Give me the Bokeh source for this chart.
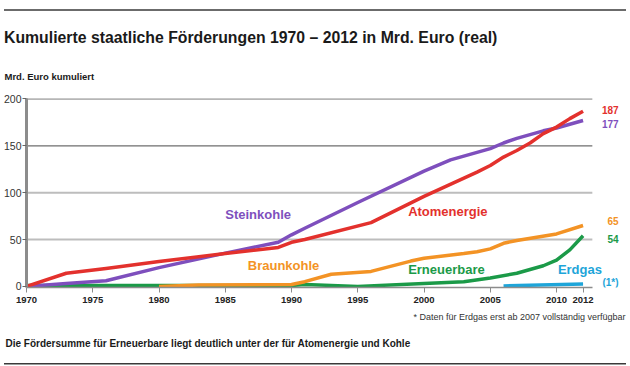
from bokeh.plotting import figure
from bokeh.models import FixedTicker, Label, Range1d
from bokeh.layouts import column
from bokeh.embed import file_html
from bokeh.resources import INLINE

# ---------------- data ----------------
years_atom = [1970, 1973, 1976, 1980, 1985, 1989, 1990, 1991, 1996, 2000, 2004,
              2005, 2006, 2007, 2008, 2009, 2010, 2011, 2012]
atom = [0, 14, 19, 26.5, 35, 41.5, 47, 50, 68, 96, 122,
        129, 138, 145, 153, 163, 170, 179, 187]

years_stein = [1970, 1973, 1976, 1980, 1985, 1989, 1990, 1991, 1995, 2000, 2002,
               2004, 2005, 2006, 2007, 2008, 2009, 2010, 2011, 2012]
stein = [0, 3, 6, 20, 35.5, 47, 55, 62, 89.5, 123, 135,
         143, 147, 153, 158, 162, 166, 169, 173, 177]

years_braun = [1980, 1983, 1990, 1991, 1993, 1996, 1999, 2000, 2003, 2004,
               2005, 2006, 2007, 2010, 2012]
braun = [0, 1.5, 2, 5, 13, 16, 27, 30, 35, 37, 40, 46, 49, 56, 65]

years_ern = [1970, 1990, 1991, 1995, 2000, 2003, 2005, 2007, 2009, 2010, 2011, 2012]
ern = [1, 1, 2, 0, 3, 5, 9, 14, 22, 28, 39, 54]

years_gas = [2006, 2012]
gas = [0.5, 2.5]

x_ticks = [1970, 1975, 1980, 1985, 1990, 1995, 2000, 2005, 2010, 2012]
y_ticks = [0, 50, 100, 150, 200]
dark_grid = [150, 200]
light_grid = [50, 100]

title_text = "Kumulierte staatliche Förderungen 1970 – 2012 in Mrd. Euro (real)"
unit_text = "Mrd. Euro kumuliert"
note_text = "* Daten für Erdgas erst ab 2007 vollständig verfügbar"
sub_text = "Die Fördersumme für Erneuerbare liegt deutlich unter der für Atomenergie und Kohle"

C_ATOM = "#e3312d"
C_STEIN = "#7e4fbd"
C_BRAUN = "#f39325"
C_ERN = "#1b9a48"
C_GAS = "#1ea5d9"
C_TEXT = "#1a1a1a"
C_RULE = "#3a3a3a"
FONT = "Liberation Sans"

W = 630
GRID_END = 2012.7


def blank_fig(height, y0, y1):
    f = figure(width=W, height=height, output_backend="svg", toolbar_location=None,
               title=None, frame_align=False,
               x_range=Range1d(0, W), y_range=Range1d(y1, y0),
               x_axis_type=None, y_axis_type=None, min_border=0)
    f.outline_line_color = None
    f.grid.visible = False
    f.background_fill_color = "white"
    f.border_fill_color = "white"
    return f


def txt(f, x, y, s, size, bold, align="left", color=C_TEXT):
    f.add_layout(Label(x=x, y=y, text=s, text_font=FONT, text_font_size=size,
                       text_font_style="bold" if bold else "normal",
                       text_color=color, text_align=align,
                       text_baseline="middle"))


def rule(f, y):
    f.segment(x0=[3.5], y0=[y], x1=[625.5], y1=[y], line_color=C_RULE, line_width=1.5)


# ---------------- header ----------------
top = blank_fig(90, 0, 90)
rule(top, 9.5)
txt(top, 3.5, 36.7, title_text, "15.8px", True)
txt(top, 4, 76.3, unit_text, "9.5px", True)

# ---------------- main chart ----------------
p = figure(width=W, height=220, output_backend="svg", toolbar_location=None,
           title=None, frame_align=False,
           x_range=Range1d(1970, 2015.58), y_range=Range1d(-1.2, 200.5),
           min_border_left=26, min_border_right=0, min_border_top=8,
           min_border_bottom=23)
p.outline_line_color = None
p.background_fill_color = "white"
p.border_fill_color = "white"
p.xgrid.visible = False
p.ygrid.visible = False

# grid lines (stop at the end of the time axis)
p.segment(x0=[1970] * len(dark_grid), y0=dark_grid, x1=[GRID_END] * len(dark_grid),
          y1=dark_grid, line_color="#6e6e6e", line_width=1.3)
p.segment(x0=[1970] * len(light_grid), y0=light_grid, x1=[GRID_END] * len(light_grid),
          y1=light_grid, line_color="#bdbdbd", line_width=2)

xa = p.xaxis[0]
xa.ticker = FixedTicker(ticks=x_ticks)
xa.bounds = (1970, GRID_END)
xa.axis_line_color = "#8c8c8c"
xa.axis_line_width = 1.5
xa.major_tick_line_color = "#8c8c8c"
xa.major_tick_out = 5
xa.major_tick_in = 0
xa.minor_tick_line_color = None
xa.major_label_text_font = FONT
xa.major_label_text_font_style = "bold"
xa.major_label_text_font_size = "9.5px"
xa.major_label_text_color = "#222222"
xa.major_label_standoff = 4

ya = p.yaxis[0]
ya.ticker = FixedTicker(ticks=y_ticks)
ya.axis_line_color = "#8c8c8c"
ya.axis_line_width = 3
ya.major_tick_line_color = "#666666"
ya.major_tick_out = 4
ya.major_tick_in = 0
ya.minor_tick_line_color = None
ya.major_label_text_font = FONT
ya.major_label_text_font_size = "10.5px"
ya.major_label_text_color = "#333333"
ya.major_label_standoff = 1

for xs, ys, c in [(years_gas, gas, C_GAS), (years_ern, ern, C_ERN),
                  (years_braun, braun, C_BRAUN), (years_stein, stein, C_STEIN),
                  (years_atom, atom, C_ATOM)]:
    p.line(xs, ys, line_color=c, line_width=3.5, line_join="round")


def name_label(x, y, s, c):
    p.add_layout(Label(x=x, y=y, text=s, text_color=c, text_font=FONT,
                       text_font_style="bold", text_font_size="13px",
                       text_align="left", text_baseline="middle"))


name_label(1985.0, 76.8, "Steinkohle", C_STEIN)
name_label(1998.8, 79.4, "Atomenergie", C_ATOM)
name_label(1986.7, 22.8, "Braunkohle", C_BRAUN)
name_label(1998.8, 17.6, "Erneuerbare", C_ERN)
name_label(2010.1, 17.9, "Erdgas", C_GAS)


def end_label(x, y, s, c, dy, size="10px"):
    p.add_layout(Label(x=x, y=y, x_offset=35.5, y_offset=dy, text=s,
                       text_color=c, text_font=FONT, text_font_style="bold",
                       text_font_size=size, text_align="right",
                       text_baseline="middle"))


end_label(years_atom[-1], atom[-1], str(round(atom[-1])), C_ATOM, 1.5)
end_label(years_stein[-1], stein[-1], str(round(stein[-1])), C_STEIN, -3)
end_label(years_braun[-1], braun[-1], str(round(braun[-1])), C_BRAUN, 4.7)
end_label(years_ern[-1], ern[-1], str(round(ern[-1])), C_ERN, -3.5)
end_label(years_gas[-1], gas[-1], "(1*)", C_GAS, 1.7)

# ---------------- footer ----------------
bot = blank_fig(56, 310, 366)
txt(bot, 625, 316.8, note_text, "9px", False, align="right", color="#333333")
txt(bot, 5, 343.1, sub_text, "10px", True)
rule(bot, 363.3)

layout = column(top, p, bot, spacing=0)
open("out.html", "w").write(file_html(layout, INLINE))
